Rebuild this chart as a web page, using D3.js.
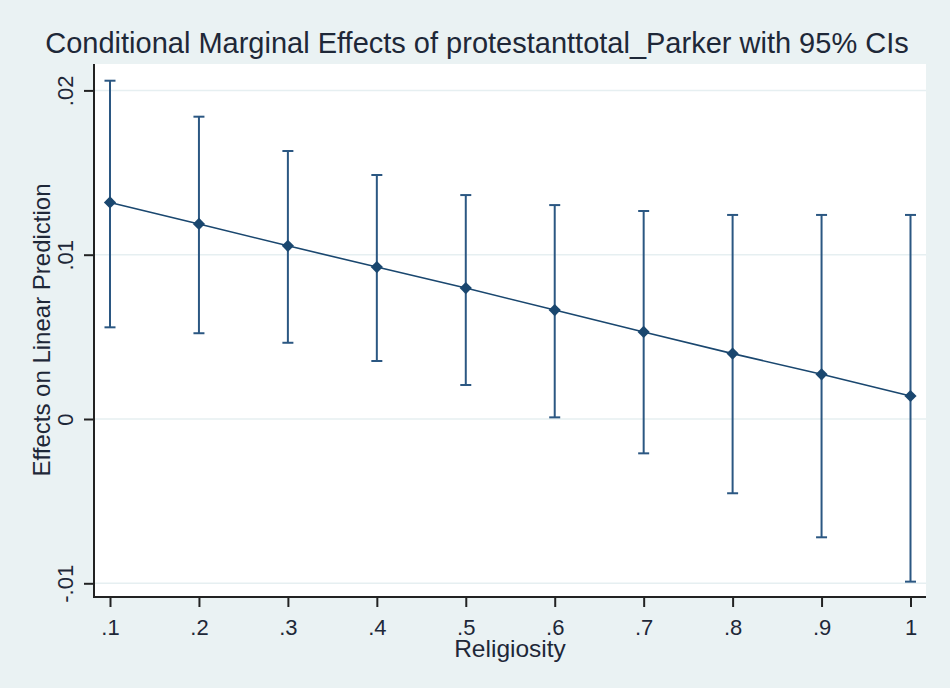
<!DOCTYPE html>
<html>
<head>
<meta charset="utf-8">
<script src="https://cdn.jsdelivr.net/npm/d3@7"></script>
<style>
  html, body { margin: 0; padding: 0; background: #eaf2f3; }
  svg { display: block; font-family: "Liberation Sans", Arial, sans-serif; }
</style>
</head>
<body>
<svg id="chart" width="950" height="688"></svg>
<script>
// values
let religiosity = [0.1, 0.2, 0.3, 0.4, 0.5, 0.6, 0.7, 0.8, 0.9, 1.0];
let effect = [0.01318, 0.01187, 0.01054, 0.00925, 0.00797, 0.00663, 0.00530, 0.00398, 0.00272, 0.00140];
let upper = [0.02059, 0.01840, 0.01631, 0.01485, 0.01363, 0.01302, 0.01266, 0.01242, 0.01242, 0.01242];
let lower = [0.00558, 0.00522, 0.00464, 0.00353, 0.00207, 0.00010, -0.00209, -0.00452, -0.00720, -0.00990];
let xTicks = [0.1, 0.2, 0.3, 0.4, 0.5, 0.6, 0.7, 0.8, 0.9, 1];
let xTickLabels = [".1", ".2", ".3", ".4", ".5", ".6", ".7", ".8", ".9", "1"];
let yTicks = [-0.01, 0, 0.01, 0.02];
let yTickLabels = ["-.01", "0", ".01", ".02"];

let plot = {left: 94, right: 926, top: 64, bottom: 597};
let navy = "#1a476f";
let capColor = "#2b5782";
let textColor = "#1e2838";

let svg = d3.select("#chart");

let x = d3.scaleLinear().domain([0.1, 1]).range([110, 910.5]);
let y = d3.scaleLinear().domain([0, 0.01]).range([419, 254.7]);

let points = religiosity.map((r, i) => ({r, e: effect[i], hi: upper[i], lo: lower[i]}));

// plot region
svg.append("rect")
  .attr("x", plot.left).attr("y", plot.top)
  .attr("width", plot.right - plot.left).attr("height", plot.bottom - plot.top)
  .attr("fill", "#ffffff");

// gridlines
svg.append("g")
  .selectAll("line")
  .data(yTicks)
  .enter()
  .append("line")
  .attr("x1", plot.left).attr("x2", plot.right)
  .attr("y1", d => y(d)).attr("y2", d => y(d))
  .attr("stroke", "#e6eff1")
  .attr("stroke-width", 1.5);

// title
svg.append("text")
  .attr("x", 477).attr("y", 53)
  .attr("text-anchor", "middle")
  .attr("font-size", 29)
  .attr("fill", textColor)
  .text("Conditional Marginal Effects of protestanttotal_Parker with 95% CIs");

// y axis
let yAxis = svg.append("g")
  .attr("transform", `translate(${plot.left},0)`)
  .call(d3.axisLeft(y).tickValues(yTicks).tickSize(10).tickFormat((d, i) => yTickLabels[i]));
yAxis.select(".domain").remove();
yAxis.append("line")
  .attr("x1", 0).attr("x2", 0).attr("y1", plot.top).attr("y2", plot.bottom + 1)
  .attr("stroke", "#222").attr("stroke-width", 2);
yAxis.selectAll(".tick line").attr("stroke", "#222").attr("stroke-width", 2);
yAxis.selectAll(".tick text")
  .attr("x", 0).attr("dy", 0)
  .attr("transform", "translate(-21,0) rotate(-90)")
  .attr("text-anchor", "middle")
  .attr("font-size", 22)
  .attr("fill", textColor)
  .attr("font-family", "Liberation Sans, Arial, sans-serif");

// x axis
let xAxis = svg.append("g")
  .attr("transform", `translate(0,${plot.bottom})`)
  .call(d3.axisBottom(x).tickValues(xTicks).tickSize(10).tickFormat((d, i) => xTickLabels[i]));
xAxis.select(".domain").remove();
xAxis.append("line")
  .attr("x1", plot.left - 1).attr("x2", plot.right).attr("y1", 0).attr("y2", 0)
  .attr("stroke", "#222").attr("stroke-width", 2);
xAxis.selectAll(".tick line").attr("stroke", "#222").attr("stroke-width", 2);
xAxis.selectAll(".tick text")
  .attr("y", 38).attr("dy", 0)
  .attr("font-size", 22)
  .attr("fill", textColor)
  .attr("font-family", "Liberation Sans, Arial, sans-serif");

// axis titles
svg.append("text")
  .attr("transform", "translate(50,330) rotate(-90)")
  .attr("text-anchor", "middle")
  .attr("font-size", 24)
  .attr("fill", textColor)
  .text("Effects on Linear Prediction");

svg.append("text")
  .attr("x", 510).attr("y", 657)
  .attr("text-anchor", "middle")
  .attr("font-size", 24.5)
  .attr("fill", textColor)
  .text("Religiosity");

// confidence intervals
let ci = svg.append("g").attr("class", "ci");
ci.selectAll("line.bar")
  .data(points)
  .enter()
  .append("line")
  .attr("class", "bar")
  .attr("x1", d => x(d.r)).attr("x2", d => x(d.r))
  .attr("y1", d => y(d.hi)).attr("y2", d => y(d.lo))
  .attr("stroke", capColor).attr("stroke-width", 2);

["hi", "lo"].forEach((k) => {
  ci.selectAll(`line.cap-${k}`)
    .data(points)
    .enter()
    .append("line")
    .attr("class", `cap-${k}`)
    .attr("x1", d => x(d.r) - 5.5).attr("x2", d => x(d.r) + 5.5)
    .attr("y1", d => y(d[k])).attr("y2", d => y(d[k]))
    .attr("stroke", capColor).attr("stroke-width", 2);
});

// estimate line
svg.append("path")
  .datum(points)
  .attr("fill", "none")
  .attr("stroke", navy)
  .attr("stroke-width", 1.6)
  .attr("d", d3.line().x(d => x(d.r)).y(d => y(d.e)));

// diamond markers
svg.append("g")
  .selectAll("path")
  .data(points)
  .enter()
  .append("path")
  .attr("transform", d => `translate(${x(d.r)},${y(d.e)})`)
  .attr("d", d3.symbol().type(d3.symbolDiamond2).size(95))
  .attr("fill", navy);
</script>
</body>
</html>
